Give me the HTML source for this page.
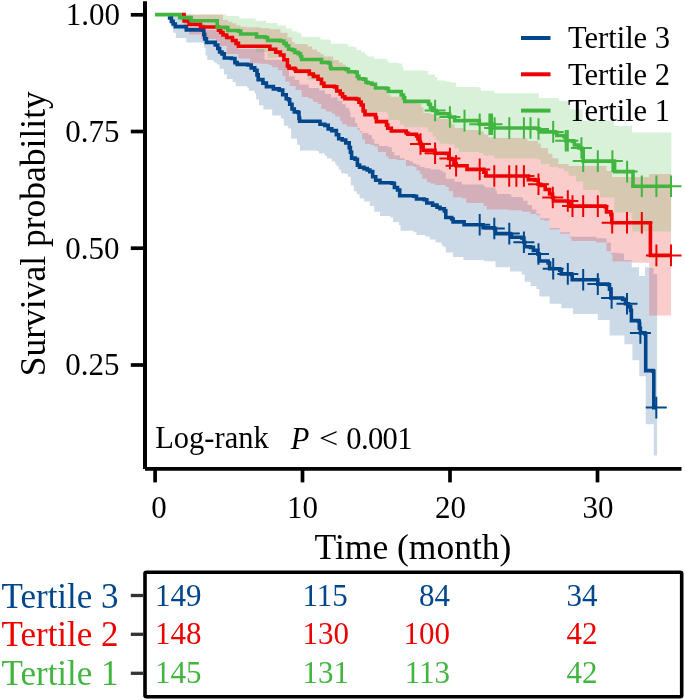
<!DOCTYPE html>
<html><head><meta charset="utf-8"><style>
html,body{margin:0;padding:0;background:#fff;width:685px;height:700px;overflow:hidden}
svg{position:absolute;left:0;top:0;will-change:transform}
text{font-family:"Liberation Serif",serif}
</style></head><body>
<svg width="685" height="700" viewBox="0 0 685 700">
<path d="M168.8 14.6 L169.6 14.6 L169.6 16.0 L180.0 16.0 L180.0 19.0 L190.0 19.0 L190.0 21.0 L200.5 21.0 L200.5 24.0 L205.0 24.0 L205.0 30.0 L216.0 30.0 L216.0 33.0 L222.0 33.0 L222.0 35.0 L226.7 35.0 L226.7 39.0 L232.5 39.0 L232.5 42.0 L238.4 42.0 L238.4 49.0 L264.0 49.0 L264.0 50.0 L264.5 50.0 L264.5 59.7 L278.0 59.7 L278.0 60.0 L283.9 60.0 L283.9 62.5 L287.4 62.5 L287.4 67.0 L289.0 67.0 L289.0 76.4 L294.7 76.4 L294.7 79.9 L299.3 79.9 L299.3 84.6 L308.7 84.6 L308.7 88.1 L319.2 88.1 L319.2 90.4 L325.0 90.4 L325.0 93.9 L330.9 93.9 L330.9 97.4 L334.0 97.4 L334.0 97.3 L337.6 97.3 L337.6 100.8 L342.2 100.8 L342.2 104.3 L345.7 104.3 L345.7 107.8 L349.2 107.8 L349.2 111.4 L350.4 111.4 L350.4 117.2 L355.1 117.2 L355.1 123.0 L357.4 123.0 L357.4 127.7 L359.7 127.7 L359.7 131.2 L362.1 131.2 L362.1 133.0 L368.5 133.0 L368.5 134.9 L372.0 134.9 L372.0 139.0 L374.3 139.0 L374.3 143.7 L379.0 143.7 L379.0 146.0 L388.4 146.0 L388.4 147.2 L391.9 147.2 L391.9 151.9 L394.2 151.9 L394.2 155.4 L400.0 155.4 L400.0 158.3 L404.7 158.3 L404.7 160.0 L409.4 160.0 L409.4 161.2 L412.9 161.2 L412.9 163.5 L416.4 163.5 L416.4 164.7 L419.9 164.7 L419.9 167.0 L424.6 167.0 L424.6 168.2 L430.4 168.2 L430.4 169.4 L439.7 169.4 L439.7 170.5 L442.9 170.5 L442.9 172.3 L445.8 172.3 L445.8 178.8 L454.6 178.8 L454.6 181.7 L461.9 181.7 L461.9 184.6 L483.8 184.6 L483.8 186.1 L485.3 186.1 L485.3 187.5 L495.5 187.5 L495.5 190.4 L496.9 190.4 L496.9 194.1 L510.0 194.1 L510.0 194.8 L511.5 194.8 L511.5 197.0 L521.8 197.0 L521.8 197.7 L523.2 197.7 L523.2 200.7 L527.6 200.7 L527.6 205.0 L532.0 205.0 L532.0 209.4 L536.4 209.4 L536.4 213.8 L540.0 213.8 L540.0 218.2 L549.6 218.2 L549.6 228.0 L559.8 228.0 L559.8 232.3 L570.0 232.3 L570.0 236.7 L596.3 236.7 L596.3 238.2 L606.5 238.2 L606.5 242.6 L610.9 242.6 L610.9 252.8 L620.0 252.8 L620.0 253.5 L624.0 253.5 L624.0 260.0 L631.8 260.0 L631.8 267.3 L639.0 267.3 L639.0 275.9 L645.0 275.9 L645.0 267.3 L649.2 267.3 L649.2 268.0 L653.5 268.0 L653.5 274.0 L657.1 274.0 L657.1 274.0 L657.1 455.5 L657.1 455.5 L653.8 455.5 L653.8 424.3 L653.8 424.3 L653.8 424.3 L645.7 424.3 L645.7 376.3 L645.7 376.3 L645.7 376.3 L639.3 376.3 L639.3 361.4 L639.3 361.4 L639.3 360.3 L632.4 360.3 L632.4 345.4 L632.4 345.4 L632.4 344.3 L624.4 344.3 L624.4 336.3 L624.4 336.3 L624.4 335.5 L609.6 335.5 L609.6 321.4 L609.6 321.4 L609.6 319.9 L597.8 319.9 L597.8 314.0 L573.0 314.0 L573.0 308.2 L561.3 308.2 L561.3 303.8 L549.6 303.8 L549.6 296.5 L539.4 296.5 L539.4 289.1 L536.4 289.1 L536.4 286.1 L530.5 286.1 L530.5 281.8 L524.7 281.8 L524.7 274.5 L521.8 274.5 L521.8 271.5 L510.1 271.5 L510.1 267.2 L495.5 267.2 L495.5 261.3 L483.8 261.3 L483.8 259.9 L463.4 259.9 L463.4 256.9 L453.1 256.9 L453.1 252.6 L445.8 252.6 L445.8 246.7 L442.9 246.7 L442.9 245.3 L441.4 245.3 L441.4 242.4 L435.5 242.4 L435.5 239.5 L429.7 239.5 L429.7 236.5 L425.3 236.5 L425.3 235.1 L416.5 235.1 L416.5 232.2 L413.6 232.2 L413.6 230.7 L400.5 230.7 L400.5 224.9 L399.0 224.9 L399.0 221.9 L393.2 221.9 L393.2 217.6 L390.3 217.6 L390.3 216.1 L380.0 216.1 L380.0 211.7 L374.2 211.7 L374.2 205.9 L369.8 205.9 L369.8 201.5 L364.0 201.5 L364.0 198.6 L359.6 198.6 L359.6 194.2 L356.7 194.2 L356.7 191.3 L353.8 191.3 L353.8 185.4 L350.8 185.4 L350.8 176.7 L347.9 176.7 L347.9 173.8 L345.0 173.8 L345.0 173.2 L341.1 173.2 L341.1 169.7 L338.7 169.7 L338.7 166.2 L336.4 166.2 L336.4 163.9 L335.2 163.9 L335.2 161.6 L331.7 161.6 L331.7 158.6 L327.0 158.6 L327.0 155.7 L324.7 155.7 L324.7 153.4 L318.9 153.4 L318.9 151.1 L316.5 151.1 L316.5 150.5 L299.9 150.5 L299.9 144.7 L297.0 144.7 L297.0 138.8 L291.1 138.8 L291.1 128.6 L288.2 128.6 L288.2 125.7 L283.8 125.7 L283.8 118.4 L280.9 118.4 L280.9 115.5 L272.2 115.5 L272.2 109.6 L263.4 109.6 L263.4 105.3 L259.0 105.3 L259.0 99.4 L256.1 99.4 L256.1 93.6 L254.6 93.6 L254.6 90.7 L248.8 90.7 L248.8 87.7 L247.3 87.7 L247.3 86.3 L235.7 86.3 L235.7 81.9 L232.7 81.9 L232.7 79.0 L226.9 79.0 L226.9 74.6 L224.0 74.6 L224.0 68.8 L219.6 68.8 L219.6 64.4 L216.7 64.4 L216.7 62.5 L214.0 62.5 L214.0 60.8 L212.6 60.8 L212.6 59.9 L207.3 59.9 L207.3 55.5 L205.5 55.5 L205.5 47.7 L203.8 47.7 L203.8 43.3 L202.9 43.3 L202.9 42.4 L186.3 42.4 L186.3 38.0 L175.8 38.0 L175.8 32.8 L173.1 32.8 L173.1 27.5 L171.4 27.5 L171.4 17.9 L168.8 17.9 L168.8 14.6 L168.8 14.6Z" fill="#00468B" fill-opacity="0.2"/>
<path d="M184.1 14.6 L221.0 14.6 L221.0 14.6 L223.0 14.6 L223.0 20.0 L228.1 20.0 L228.1 21.8 L232.2 21.8 L232.2 23.3 L236.3 23.3 L236.3 25.3 L240.4 25.3 L240.4 26.8 L246.5 26.8 L246.5 27.2 L260.5 27.2 L260.5 28.2 L269.9 28.2 L269.9 29.3 L280.4 29.3 L280.4 32.8 L287.4 32.8 L287.4 37.5 L292.1 37.5 L292.1 42.2 L294.7 42.2 L294.7 44.0 L307.5 44.0 L307.5 46.6 L312.2 46.6 L312.2 49.5 L316.9 49.5 L316.9 51.9 L320.4 51.9 L320.4 54.2 L323.9 54.2 L323.9 56.5 L333.2 56.5 L333.2 60.0 L339.0 60.0 L339.0 62.4 L342.6 62.4 L342.6 64.7 L346.1 64.7 L346.1 70.0 L357.2 70.0 L357.2 74.0 L358.9 74.0 L358.9 79.0 L365.9 79.0 L365.9 84.0 L374.3 84.0 L374.3 89.7 L387.2 89.7 L387.2 94.4 L390.7 94.4 L390.7 96.7 L398.9 96.7 L398.9 96.7 L403.5 96.7 L403.5 99.0 L404.7 99.0 L404.7 103.0 L417.6 103.0 L417.6 103.7 L421.1 103.7 L421.1 107.2 L423.4 107.2 L423.4 113.1 L430.4 113.1 L430.4 114.2 L435.1 114.2 L435.1 117.2 L440.0 117.2 L440.0 119.1 L450.2 119.1 L450.2 121.3 L451.7 121.3 L451.7 124.2 L454.6 124.2 L454.6 127.9 L463.4 127.9 L463.4 130.1 L480.9 130.1 L480.9 131.5 L483.8 131.5 L483.8 134.5 L488.2 134.5 L488.2 137.4 L494.0 137.4 L494.0 138.1 L526.1 138.1 L526.1 138.8 L527.6 138.8 L527.6 141.0 L537.9 141.0 L537.9 143.6 L540.8 143.6 L540.8 148.0 L548.1 148.0 L548.1 153.8 L552.5 153.8 L552.5 158.2 L558.4 158.2 L558.4 164.0 L568.6 164.0 L568.6 166.0 L605.0 166.0 L605.0 166.0 L606.5 166.0 L606.5 171.0 L612.0 171.0 L612.0 176.9 L649.0 176.9 L649.0 176.9 L649.0 176.9 L649.0 174.0 L671.0 174.0 L671.0 174.0 L671.0 315.4 L671.0 315.4 L657.1 315.4 L657.1 315.4 L653.5 315.4 L653.5 315.4 L649.2 315.4 L649.2 262.7 L645.0 262.7 L645.0 262.7 L639.0 262.7 L639.0 262.7 L631.8 262.7 L631.8 261.5 L624.0 261.5 L624.0 261.5 L620.0 261.5 L620.0 261.5 L612.4 261.5 L612.4 254.3 L610.9 254.3 L610.9 251.3 L606.5 251.3 L606.5 242.6 L596.3 242.6 L596.3 241.1 L571.5 241.1 L571.5 238.2 L570.0 238.2 L570.0 233.8 L559.8 233.8 L559.8 229.5 L549.6 229.5 L549.6 220.7 L543.8 220.7 L543.8 219.7 L540.0 219.7 L540.0 215.3 L536.4 215.3 L536.4 213.9 L532.0 213.9 L532.0 213.9 L530.5 213.9 L530.5 211.8 L527.6 211.8 L527.6 211.8 L523.2 211.8 L523.2 211.8 L521.8 211.8 L521.8 210.3 L511.5 210.3 L511.5 210.3 L510.0 210.3 L510.0 210.3 L508.6 210.3 L508.6 209.6 L496.9 209.6 L496.9 209.6 L495.5 209.6 L495.5 209.6 L486.7 209.6 L486.7 205.9 L485.3 205.9 L485.3 205.9 L483.8 205.9 L483.8 203.0 L466.3 203.0 L466.3 198.6 L461.9 198.6 L461.9 197.2 L454.6 197.2 L454.6 197.2 L453.1 197.2 L453.1 191.3 L448.8 191.3 L448.8 186.9 L445.8 186.9 L445.8 185.7 L445.0 185.7 L445.0 185.1 L442.9 185.1 L442.9 185.1 L439.7 185.1 L439.7 185.1 L435.1 185.1 L435.1 183.4 L430.4 183.4 L430.4 182.2 L426.9 182.2 L426.9 178.7 L424.6 178.7 L424.6 178.7 L422.2 178.7 L422.2 174.0 L419.9 174.0 L419.9 170.5 L416.4 170.5 L416.4 167.0 L414.1 167.0 L414.1 165.9 L412.9 165.9 L412.9 165.9 L409.4 165.9 L409.4 165.9 L405.9 165.9 L405.9 160.0 L404.7 160.0 L404.7 160.0 L400.0 160.0 L400.0 160.0 L396.5 160.0 L396.5 158.9 L394.2 158.9 L394.2 158.9 L391.9 158.9 L391.9 158.9 L388.4 158.9 L388.4 156.5 L386.0 156.5 L386.0 151.9 L379.0 151.9 L379.0 151.9 L377.8 151.9 L377.8 146.6 L374.3 146.6 L374.3 144.9 L372.0 144.9 L372.0 144.9 L370.8 144.9 L370.8 144.0 L368.5 144.0 L368.5 144.0 L365.0 144.0 L365.0 139.4 L362.1 139.4 L362.1 132.4 L359.7 132.4 L359.7 130.0 L357.4 130.0 L357.4 127.1 L355.1 127.1 L355.1 127.1 L352.7 127.1 L352.7 126.5 L350.4 126.5 L350.4 126.5 L349.2 126.5 L349.2 126.5 L346.9 126.5 L346.9 124.2 L345.7 124.2 L345.7 124.2 L342.2 124.2 L342.2 120.7 L339.9 120.7 L339.9 116.6 L337.6 116.6 L337.6 116.6 L335.2 116.6 L335.2 113.7 L334.0 113.7 L334.0 113.7 L331.7 113.7 L331.7 111.4 L330.9 111.4 L330.9 111.4 L325.9 111.4 L325.9 109.0 L325.0 109.0 L325.0 109.0 L321.2 109.0 L321.2 104.0 L319.2 104.0 L319.2 104.0 L317.7 104.0 L317.7 102.1 L313.4 102.1 L313.4 99.5 L311.9 99.5 L311.9 98.5 L308.7 98.5 L308.7 98.5 L308.5 98.5 L308.5 97.0 L301.7 97.0 L301.7 90.0 L299.3 90.0 L299.3 90.0 L295.5 90.0 L295.5 86.0 L294.7 86.0 L294.7 86.0 L289.7 86.0 L289.7 81.5 L289.0 81.5 L289.0 81.5 L287.4 81.5 L287.4 81.5 L285.3 81.5 L285.3 76.1 L283.9 76.1 L283.9 76.1 L282.4 76.1 L282.4 70.2 L278.0 70.2 L278.0 67.3 L272.2 67.3 L272.2 65.0 L268.7 65.0 L268.7 63.8 L264.5 63.8 L264.5 63.8 L264.0 63.8 L264.0 63.8 L259.4 63.8 L259.4 63.2 L250.0 63.2 L250.0 58.5 L238.4 58.5 L238.4 53.9 L232.5 53.9 L232.5 53.9 L226.7 53.9 L226.7 46.0 L222.0 46.0 L222.0 46.0 L219.7 46.0 L219.7 42.0 L216.0 42.0 L216.0 38.9 L205.0 38.9 L205.0 38.9 L201.0 38.9 L201.0 34.5 L200.5 34.5 L200.5 34.5 L190.0 34.5 L190.0 34.5 L189.0 34.5 L189.0 28.0 L184.1 28.0 L184.1 14.6 L180.0 14.6 L180.0 14.6 L169.6 14.6 L169.6 14.6 L168.8 14.6Z" fill="#ED0000" fill-opacity="0.2"/>
<path d="M179.7 14.6 L226.4 14.6 L226.4 16.1 L239.3 16.1 L239.3 18.4 L255.6 18.4 L255.6 20.8 L266.1 20.8 L266.1 23.1 L277.8 23.1 L277.8 25.4 L286.0 25.4 L286.0 28.4 L291.8 28.4 L291.8 31.3 L297.0 31.3 L297.0 32.4 L300.5 32.4 L300.5 34.3 L301.7 34.3 L301.7 36.7 L319.2 36.7 L319.2 37.3 L320.4 37.3 L320.4 39.6 L329.7 39.6 L329.7 40.2 L330.9 40.2 L330.9 43.7 L346.1 43.7 L346.1 44.3 L348.4 44.3 L348.4 46.6 L354.2 46.6 L354.2 47.2 L356.6 47.2 L356.6 50.1 L361.2 50.1 L361.2 51.9 L364.7 51.9 L364.7 54.2 L367.3 54.2 L367.3 56.5 L374.3 56.5 L374.3 58.8 L387.2 58.8 L387.2 61.1 L388.4 61.1 L388.4 62.8 L398.9 62.8 L398.9 63.4 L402.4 63.4 L402.4 67.5 L403.5 67.5 L403.5 70.4 L425.7 70.4 L425.7 71.0 L428.1 71.0 L428.1 74.5 L435.1 74.5 L435.1 76.9 L437.4 76.9 L437.4 80.4 L445.0 80.4 L445.0 81.5 L450.2 81.5 L450.2 82.6 L456.1 82.6 L456.1 87.0 L479.4 87.0 L479.4 88.5 L480.9 88.5 L480.9 90.7 L494.0 90.7 L494.0 91.4 L494.7 91.4 L494.7 93.3 L538.8 93.3 L538.8 93.3 L538.9 93.3 L538.9 98.1 L558.8 98.1 L558.8 98.1 L559.0 98.1 L559.0 100.8 L570.0 100.8 L570.0 100.8 L570.0 100.8 L570.0 109.5 L582.7 109.5 L582.7 109.5 L582.7 109.5 L582.7 120.5 L614.0 120.5 L614.0 120.5 L614.0 120.5 L614.0 125.9 L632.0 125.9 L632.0 125.9 L632.0 125.9 L632.0 132.5 L671.3 132.5 L671.3 132.5 L671.3 231.4 L671.3 231.4 L632.4 231.4 L632.4 212.5 L632.0 212.5 L632.0 212.5 L614.3 212.5 L614.3 197.5 L614.0 197.5 L614.0 197.5 L600.0 197.5 L600.0 192.0 L599.2 192.0 L599.2 190.0 L583.2 190.0 L583.2 181.5 L575.9 181.5 L575.9 175.7 L568.6 175.7 L568.6 171.3 L564.2 171.3 L564.2 168.4 L558.4 168.4 L558.4 166.9 L549.6 166.9 L549.6 164.0 L540.8 164.0 L540.8 159.6 L537.9 159.6 L537.9 158.5 L535.0 158.5 L535.0 158.5 L494.0 158.5 L494.0 155.6 L483.8 155.6 L483.8 153.0 L479.4 153.0 L479.4 152.0 L459.0 152.0 L459.0 148.3 L454.6 148.3 L454.6 144.6 L448.8 144.6 L448.8 143.7 L439.7 143.7 L439.7 140.2 L436.2 140.2 L436.2 136.7 L432.7 136.7 L432.7 132.0 L428.1 132.0 L428.1 128.5 L426.9 128.5 L426.9 127.3 L404.0 127.3 L404.0 124.7 L400.0 124.7 L400.0 120.1 L397.7 120.1 L397.7 120.1 L388.4 120.1 L388.4 114.2 L387.2 114.2 L387.2 111.9 L366.2 111.9 L366.2 108.4 L361.2 108.4 L361.2 102.0 L356.6 102.0 L356.6 101.0 L344.9 101.0 L344.9 93.5 L336.7 93.5 L336.7 91.0 L334.4 91.0 L334.4 89.0 L323.9 89.0 L323.9 85.7 L319.2 85.7 L319.2 79.9 L307.5 79.9 L307.5 74.0 L297.0 74.0 L297.0 71.0 L290.0 71.0 L290.0 67.0 L287.4 67.0 L287.4 63.0 L283.9 63.0 L283.9 58.0 L280.4 58.0 L280.4 58.0 L267.6 58.0 L267.6 52.0 L267.6 52.0 L267.6 52.0 L256.0 52.0 L256.0 48.0 L256.0 48.0 L256.0 48.0 L238.4 48.0 L238.4 43.0 L232.5 43.0 L232.5 40.0 L226.7 40.0 L226.7 36.0 L222.0 36.0 L222.0 32.0 L218.0 32.0 L218.0 28.0 L200.5 28.0 L200.5 24.0 L191.0 24.0 L191.0 21.0 L179.7 21.0 L179.7 14.6 L179.7 14.6Z" fill="#42B540" fill-opacity="0.2"/>
<path d="M168.6 16.4H169.6V17.9H171.4V21.4H173.1V24.0H175.3V26.6H185.4V26.6H186.3V29.9H202.9V30.1H203.8V34.5H204.7V38.9H206.4V42.4H213.4V42.4H215.2V45.0H217.8V48.5H219.6V52.0H222.0V53.9H224.3V58.0H231.4V58.5H234.9V62.6H237.2V64.4H247.7V65.0H251.2V67.9H254.7V70.2H257.0V74.9H258.2V79.6H262.9V83.1H266.4V86.6H273.4V88.9H279.2V90.1H282.7V94.7H286.2V98.8H288.5V99.7H289.7V104.3H292.0V109.0H294.3V111.9H297.8V112.5H299.0V118.4H299.6V121.3H317.7V121.3H320.0V124.2H324.7V125.4H328.2V128.9H331.7V130.6H335.2V130.6H336.4V134.7H338.7V138.8H342.2V140.0H345.7V142.9H349.2V147.6H350.4V152.2H351.6V158.1H355.1V159.2H357.4V165.1H359.6V167.2H364.0V168.6H367.3V170.0H369.8V171.6H372.7V176.7H375.7V180.3H380.0V182.8H391.8V183.3H394.4V187.5H397.5V190.0H399.7V195.7H413.8V196.3H416.5V199.0H424.2V199.8H426.8V203.0H432.6V205.1H437.0V207.3H440.0V208.8H444.4V210.9H445.8V217.5H451.7V219.0H453.1V221.9H463.4V221.9H464.1V224.8H480.9V224.8H483.1V227.7H494.0V228.5H495.5V233.6H510.1V234.3H511.5V237.2H521.8V238.0H523.9V242.3H524.7V246.7H530.5V247.4H533.4V250.4H537.8V254.0H539.3V261.0H548.1V263.0H549.6V268.8H559.8V270.2H561.3V273.9H571.5V274.6H572.2V279.7H596.3V279.7H597.8V284.1H608.0V284.8H609.5V289.2H610.9V298.0H622.6V299.4H625.5V303.8H628.4V306.7H630.6V310.4H631.4V320.6H638.1V321.0H639.3V328.3H640.4V332.9H645.0V334.0H645.7V370.6H653.0V371.3H653.8V407.6H656.3V407.6" fill="none" stroke="#00468B" stroke-width="3.6" stroke-linejoin="miter" stroke-linecap="butt"/>
<path d="M469.2 224.8h21M479.7 214.0v21.6M483.8 228.5h21M494.3 217.7v21.6M498.8 233.6h21M509.3 222.8v21.6M513.4 242.3h21M523.9 231.5v21.6M528.0 254.0h21M538.5 243.2v21.6M542.7 268.8h21M553.2 258.0v21.6M557.3 273.9h21M567.8 263.1v21.6M572.7 279.7h21M583.2 268.9v21.6M587.3 284.1h21M597.8 273.3v21.6M601.1 298.0h21M611.6 287.2v21.6M616.5 303.8h21M627.0 293.0v21.6M629.9 332.9h21M640.4 322.1v21.6M645.8 407.6h21M656.3 396.8v21.6" fill="none" stroke="#00468B" stroke-width="2"/>
<path d="M181.5 14.6H184.1V21.0H189.0V24.3H200.5V27.0H218.4V30.5H220.7V32.5H223.0V35.0H226.7V37.5H232.5V40.5H236.0V43.4H238.4V46.3H267.6V46.3H269.9V49.2H275.7V52.1H280.4V55.0H283.9V59.7H287.4V66.0H289.0V68.2H294.7V69.4H295.8V71.1H307.5V71.1H309.3V74.0H313.4V76.4H318.0V79.3H321.5V83.4H323.9V86.3H334.4V86.9H336.7V91.0H340.2V93.9H342.6V96.8H344.9V98.6H356.6V99.2H358.9V102.1H361.2V105.0H363.2V111.0H365.0V114.6H375.5V117.5H376.4V121.6H386.5V125.1H387.8V128.2H391.3V131.0H406.2V133.0H407.9V134.3H416.5V136.0H418.0V139.0H419.5V142.0H420.4V144.0H421.5V146.5H423.1V150.2H435.0V153.2H446.6V153.4H448.8V158.5H451.7V159.5H453.9V163.6H456.1V165.8H464.8V165.8H467.0V169.4H482.3V169.4H483.8V172.3H486.0V176.0H526.1V176.0H528.3V179.6H535.0V180.1H538.2V184.3H540.8V185.5H545.2V189.5H549.6V194.0H552.5V197.5H553.5V201.0H568.6V201.7H570.0V206.1H605.1V206.8H606.5V211.9H610.9V214.8H611.8V222.8H649.8V222.8H650.4V255.4H671.0V255.4" fill="none" stroke="#ED0000" stroke-width="3.6" stroke-linejoin="miter" stroke-linecap="butt"/>
<path d="M410.0 144.0h21M420.5 133.2v21.6M424.6 153.2h21M435.1 142.4v21.6M439.4 158.5h21M449.9 147.7v21.6M445.6 165.8h21M456.1 155.0v21.6M469.2 169.4h21M479.7 158.6v21.6M483.8 176.0h21M494.3 165.2v21.6M498.7 176.0h21M509.2 165.2v21.6M505.9 176.0h21M516.4 165.2v21.6M513.4 176.0h21M523.9 165.2v21.6M528.0 184.3h21M538.5 173.5v21.6M542.3 197.5h21M552.8 186.7v21.6M557.3 201.0h21M567.8 190.2v21.6M562.0 206.1h21M572.5 195.3v21.6M572.7 206.1h21M583.2 195.3v21.6M587.3 206.1h21M597.8 195.3v21.6M601.7 222.8h21M612.2 212.0v21.6M616.5 222.8h21M627.0 212.0v21.6M631.3 222.8h21M641.8 212.0v21.6M645.9 255.4h21M656.4 244.6v21.6M660.5 255.4h21M671.0 244.6v21.6" fill="none" stroke="#ED0000" stroke-width="2"/>
<path d="M155.1 14.6H179.7V17.6H191.1V20.8H217.2V27.2H225.5V27.6H227.8V30.5H238.4V31.1H240.7V34.0H254.7V34.0H256.5V36.9H265.2V37.5H267.6V40.4H280.4V41.0H283.9V43.4H286.2V45.7H288.6V49.2H292.3V50.1H294.7V52.4H298.2V53.6H300.5V56.5H301.7V59.5H319.2V59.5H321.5V62.4H328.5V63.0H330.3V67.0H330.9V68.8H346.1V69.4H348.4V71.7H355.4V72.3H357.2V76.4H358.9V78.7H363.6V79.3H365.9V82.2H368.0V83.0H372.0V84.3H375.5V88.0H386.0V88.5H388.4V91.5H398.9V91.5H401.2V95.0H403.5V97.9H404.7V101.4H426.9V101.4H428.6V104.3H430.4V107.8H432.7V110.5H436.2V111.9H437.4V113.7H448.8V114.5H449.6V117.0H454.6V120.6H479.3V124.2H494.2V128.0H535.0V128.2H537.9V129.0H539.4V131.9H555.4V132.6H556.9V135.5H564.2V137.0H565.7V140.7H573.0V141.4H574.4V145.0H578.8V148.0H581.7V149.4H583.2V161.1H613.8V161.3H614.6V171.6H632.6V171.8H633.0V186.2H671.6V186.2" fill="none" stroke="#42B540" stroke-width="3.6" stroke-linejoin="miter" stroke-linecap="butt"/>
<path d="M424.6 110.5h21M435.1 99.7v21.6M439.4 117.0h21M449.9 106.2v21.6M454.0 120.6h21M464.5 109.8v21.6M469.2 124.2h21M479.7 113.4v21.6M478.9 124.2h21M489.4 113.4v21.6M480.2 124.2h21M490.7 113.4v21.6M481.5 124.2h21M492.0 113.4v21.6M484.1 128.0h21M494.6 117.2v21.6M498.8 128.0h21M509.3 117.2v21.6M513.4 128.0h21M523.9 117.2v21.6M520.0 128.0h21M530.5 117.2v21.6M528.0 129.0h21M538.5 118.2v21.6M542.7 131.9h21M553.2 121.1v21.6M555.2 140.7h21M565.7 129.9v21.6M557.3 140.7h21M567.8 129.9v21.6M570.9 148.0h21M581.4 137.2v21.6M572.7 161.1h21M583.2 150.3v21.6M587.3 161.1h21M597.8 150.3v21.6M601.9 161.1h21M612.4 150.3v21.6M616.6 171.6h21M627.1 160.8v21.6M631.3 186.2h21M641.8 175.4v21.6M645.9 186.2h21M656.4 175.4v21.6M660.5 186.2h21M671.0 175.4v21.6" fill="none" stroke="#42B540" stroke-width="2"/>
<!-- axes -->
<g stroke="#000" stroke-width="3.7" fill="none">
<line x1="145" y1="1.3" x2="145" y2="469" stroke-width="4"/>
<line x1="145" y1="468.8" x2="681.5" y2="468.8"/>
<line x1="130.8" y1="14.8" x2="145" y2="14.8"/>
<line x1="130.8" y1="131.5" x2="145" y2="131.5"/>
<line x1="130.8" y1="248.2" x2="145" y2="248.2"/>
<line x1="130.8" y1="365" x2="145" y2="365"/>
<line x1="155.1" y1="468.8" x2="155.1" y2="482.4"/>
<line x1="302.5" y1="468.8" x2="302.5" y2="482.4"/>
<line x1="450" y1="468.8" x2="450" y2="482.4"/>
<line x1="597.5" y1="468.8" x2="597.5" y2="482.4"/>
</g>
<g font-size="31" fill="#000">
<text x="120.1" y="25.3" text-anchor="end">1.00</text>
<text x="65.3" y="141.8" textLength="54.2" lengthAdjust="spacingAndGlyphs">0.75</text>
<text x="65.3" y="258.5" textLength="54.2" lengthAdjust="spacingAndGlyphs">0.50</text>
<text x="65.3" y="375.4" textLength="54.2" lengthAdjust="spacingAndGlyphs">0.25</text>
</g>
<g font-size="31" text-anchor="middle" fill="#000">
<text x="159" y="517.5">0</text>
<text x="302.5" y="517.5">10</text>
<text x="450.4" y="517.5">20</text>
<text x="597.9" y="517.5">30</text>
</g>
<text x="44.6" y="376.2" font-size="35.5" transform="rotate(-90 44.6 376.2)" fill="#000">Survival probability</text>
<text x="314.5" y="558.6" font-size="35.5" fill="#000">Time (month)</text>
<!-- legend -->
<g stroke-width="4">
<line x1="521" y1="38" x2="550.5" y2="38" stroke="#00468B"/>
<line x1="521" y1="74.3" x2="550.5" y2="74.3" stroke="#ED0000"/>
<line x1="521" y1="110.6" x2="550.5" y2="110.6" stroke="#42B540"/>
</g>
<g font-size="30.5" fill="#000">
<text x="568" y="48.3">Tertile 3</text>
<text x="568" y="84.6">Tertile 2</text>
<text x="568" y="120.9">Tertile 1</text>
</g>
<text x="155.2" y="448.4" font-size="30.5" fill="#000">Log-rank</text>
<text x="290.7" y="448.5" font-size="30.5" font-style="italic" fill="#000">P</text>
<text x="318.9" y="448.5" font-size="30.5" fill="#000" transform="translate(318.9 0) scale(1.12 1) translate(-318.9 0)">&lt;</text>
<text x="346.3" y="449" font-size="30.5" letter-spacing="-0.6" fill="#000">0.001</text>
<!-- risk table -->
<rect x="145" y="572.3" width="536.7" height="124.4" fill="none" stroke="#000" stroke-width="3.6" rx="1.5"/>
<g stroke="#333" stroke-width="3.3">
<line x1="130.8" y1="595.5" x2="143" y2="595.5"/>
<line x1="130.8" y1="634.3" x2="143" y2="634.3"/>
<line x1="130.8" y1="673.3" x2="143" y2="673.3"/>
</g>
<g font-size="35">
<text x="1.5" y="607.8" fill="#00468B">Tertile 3</text>
<text x="1.5" y="646.4" fill="#ED0000">Tertile 2</text>
<text x="1.5" y="685.2" fill="#42B540">Tertile 1</text>
</g>
<g font-size="31">
<g fill="#00468B"><text x="155" y="605.8">149</text><text x="302.5" y="605.8">115</text><text x="450" y="605.8" text-anchor="end">84</text><text x="597.5" y="605.8" text-anchor="end">34</text></g>
<g fill="#ED0000"><text x="155" y="644.3">148</text><text x="302.5" y="644.3">130</text><text x="450" y="644.3" text-anchor="end">100</text><text x="597.5" y="644.3" text-anchor="end">42</text></g>
<g fill="#42B540"><text x="155" y="682.9">145</text><text x="302.5" y="682.9">131</text><text x="450" y="682.9" text-anchor="end">113</text><text x="597.5" y="682.9" text-anchor="end">42</text></g>
</g>
</svg>
</body></html>
